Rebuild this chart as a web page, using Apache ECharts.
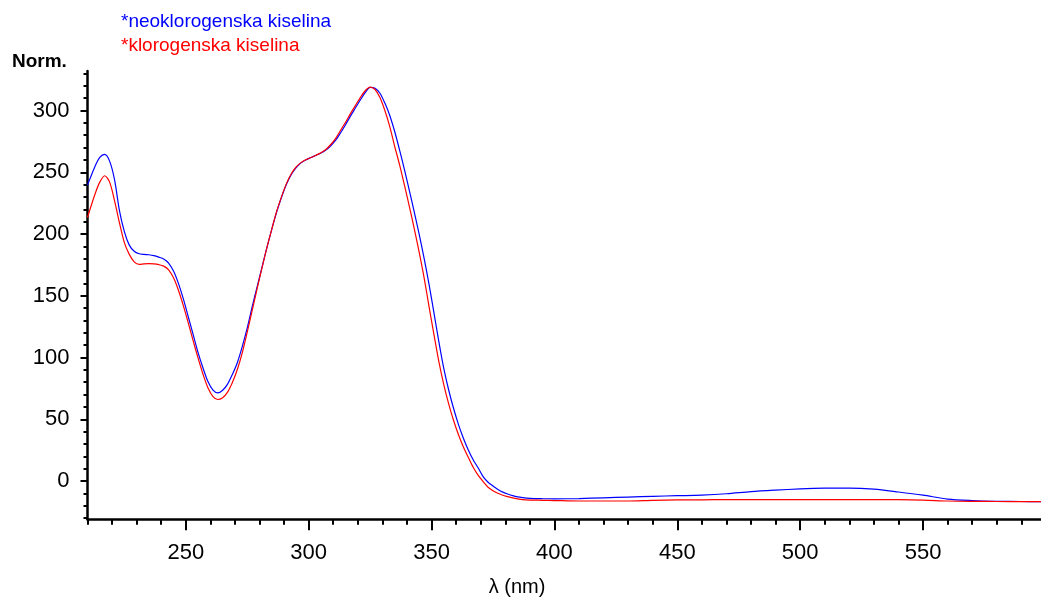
<!DOCTYPE html>
<html>
<head>
<meta charset="utf-8">
<script src="https://cdn.jsdelivr.net/npm/echarts@6/dist/echarts.min.js"></script>
<style>
html,body{margin:0;padding:0;background:#fff;}
#c{width:1041px;height:601px;}
</style>
</head>
<body>
<div id="c"></div>
<script>
var seriesNames = ['*neoklorogenska kiselina', '*klorogenska kiselina'];
var seriesColors = ['#0000ff', '#ff0000'];

var wavelengths = [210,213,215,217,219,221,223,225,227,229,231,233,235,237,239,241,243,245,247,249,
  251,253,255,257,259,261,263,265,267,269,271,273,275,277,279,281,283,285,287,289,
  291,293,295,297,299,301,303,305,307,309,311,313,315,317,319,321,323,325,327,329,
  331,333,335,337,339,341,343,345,347,349,351,353,355,357,359,361,363,365,367,369,
  371,373,375,377,379,381,383,385,387,390,395,400,410,420,430,440,450,460,470,480,
  490,500,510,520,530,540,550,560,570,580,590,598];

var neoValues = [239.6,254.5,262,264.5,259,244,219,202,191,186,184,183.5,183.2,182.5,181.3,179.8,176.5,170,160,147.5,
  133,118.5,104,91.5,80.5,73.8,71.3,73.5,78.5,86.5,96,109,124,141,157,173,189,204,218,230,
  240.5,248.5,254,257.8,260.2,262,263.8,265.6,268,271.5,276,282,288.5,295.5,302,308.5,314.5,318.8,318,314,
  306,296,283,268,252,235,217.5,199.5,180,159,136,112.5,91,73.5,58.5,45.5,34.5,25,17,10.5,
  3.5,-1,-4,-6.8,-9,-10.5,-11.8,-12.8,-13.4,-14,-14.3,-14.4,-14.2,-13.6,-13.0,-12.4,-11.9,-11.4,-10.3,-8.6,
  -7.4,-6.4,-5.8,-5.7,-6.6,-8.9,-11.5,-14.6,-15.8,-16.4,-16.6,-16.7];

var chloValues = [213.4,232,242,247.2,242,227,209,193,183.5,177.5,175.4,175.8,176,175.8,175.2,174,171,164.5,154.5,142,
  128,113.5,99.5,86.5,75.5,68.5,66,67.5,72,80,90.5,104,120.5,138,155.5,172.5,189,204,218.5,230.5,
  241,249,254.5,258,260.3,262,263.8,265.8,268.5,272.5,277.5,284,290.5,297.5,304,310.5,316,319,317,310.5,
  300,287,271,256,239.3,222,204,185,164.3,141,118.4,96.4,77.9,62.3,48.8,37.3,27.4,19,11,4.5,
  -0.5,-5,-7.8,-9.9,-11.5,-12.6,-13.6,-14.4,-15,-15.4,-15.6,-15.8,-16.2,-16.2,-16.2,-15.6,-15.3,-15.2,-15.1,-15.1,
  -15.1,-15.1,-15.1,-15.1,-15.1,-15.1,-15.4,-16.2,-16.5,-16.6,-16.7,-16.7];

var xMajorTicks = [250,300,350,400,450,500,550];
var xMinorTicks = [210,220,230,240,260,270,280,290,310,320,330,340,360,370,380,390,410,420,430,440,460,470,480,490,510,520,530,540,560,570,580,590];
var yMajorTicks = [0,50,100,150,200,250,300];
var yMinorTicks = [-30,-20,-10,10,20,30,40,60,70,80,90,110,120,130,140,160,170,180,190,210,220,230,240,260,270,280,290,310,320,330];

var yAxisTitle = 'Norm.';
var xAxisTitle = 'λ (nm)';

function pairs(xs, ys) {
  var out = [];
  for (var i = 0; i < xs.length; i++) out.push([xs[i], ys[i]]);
  return out;
}

var FONT = '"Liberation Sans", Arial, sans-serif';
var chart = echarts.init(document.getElementById('c'), null, {renderer: 'canvas'});

var axisLineStyle = {color: '#000', width: 2.5};
var option = {
  animation: false,
  backgroundColor: '#fff',
  grid: {left: 87.5, right: 0, top: 71, bottom: 81.7, containLabel: false},
  legend: {
    orient: 'vertical', left: 116, top: 12, icon: 'none', itemWidth: 0, itemHeight: 19, itemGap: 5, padding: 0,
    selectedMode: false,
    textStyle: {fontSize: 19, fontFamily: FONT},
    data: [
      {name: seriesNames[0], textStyle: {color: seriesColors[0]}},
      {name: seriesNames[1], textStyle: {color: seriesColors[1]}}
    ]
  },
  xAxis: [{
    type: 'value', min: 210, max: 598, position: 'bottom',
    axisLine: {show: true, onZero: false, lineStyle: axisLineStyle},
    axisTick: {show: true, customValues: xMajorTicks, length: 11, inside: false, lineStyle: {color: '#000', width: 2}},
    axisLabel: {show: true, customValues: xMajorTicks, margin: 23, fontSize: 22, color: '#000', fontFamily: FONT},
    splitLine: {show: false}
  }, {
    type: 'value', min: 210, max: 598, position: 'bottom', offset: 0,
    axisLine: {show: false, onZero: false},
    axisTick: {show: true, customValues: xMinorTicks, length: 5.5, inside: false, lineStyle: {color: '#000', width: 2}},
    axisLabel: {show: false},
    splitLine: {show: false}
  }],
  yAxis: [{
    type: 'value', min: -31, max: 332, position: 'left',
    axisLine: {show: true, onZero: false, lineStyle: axisLineStyle},
    axisTick: {show: true, customValues: yMajorTicks, length: 7, inside: false, lineStyle: {color: '#000', width: 2}},
    axisLabel: {show: true, customValues: yMajorTicks, margin: 18, fontSize: 22, color: '#000', fontFamily: FONT},
    splitLine: {show: false}
  }, {
    type: 'value', min: -31, max: 332, position: 'left', offset: 0,
    axisLine: {show: false, onZero: false},
    axisTick: {show: true, customValues: yMinorTicks, length: 4, inside: false, lineStyle: {color: '#000', width: 2}},
    axisLabel: {show: false},
    splitLine: {show: false}
  }],
  graphic: [
    {type: 'text', left: 12, top: 52, style: {text: yAxisTitle, fontSize: 19, fontWeight: 'bold', fontFamily: FONT, fill: '#000'}},
    {type: 'text', x: 517, y: 587, style: {text: xAxisTitle, fontSize: 20, fontFamily: FONT, fill: '#000', align: 'center', verticalAlign: 'middle'}}
  ],
  series: [{
    name: seriesNames[0], type: 'line', xAxisIndex: 0, yAxisIndex: 0,
    data: pairs(wavelengths, neoValues), showSymbol: false, smooth: 0.3,
    lineStyle: {color: seriesColors[0], width: 1.2}, itemStyle: {color: seriesColors[0]}, z: 3
  }, {
    name: seriesNames[1], type: 'line', xAxisIndex: 0, yAxisIndex: 0,
    data: pairs(wavelengths, chloValues), showSymbol: false, smooth: 0.3,
    lineStyle: {color: seriesColors[1], width: 1.2}, itemStyle: {color: seriesColors[1]}, z: 4
  }]
};
chart.setOption(option);
</script>
</body>
</html>
